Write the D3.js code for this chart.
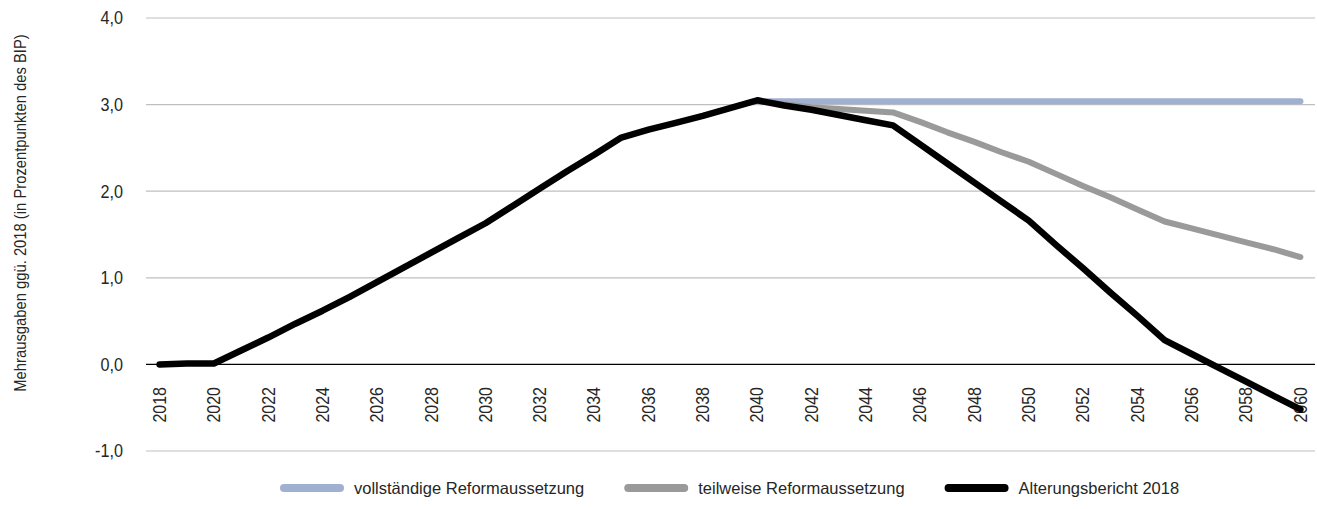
<!DOCTYPE html>
<meta charset="utf-8">
<style>
body { margin:0; background:#fff; }
svg text { font-family: "Liberation Sans", Arial, sans-serif; fill:#262626; }
.grid line { stroke:#bfbfbf; stroke-width:1.2; }
.line { fill:none; stroke-linejoin:round; stroke-linecap:round; }
</style>
<body>
<svg width="1317" height="509" id="vis"></svg>
</body>
<script src="https://d3js.org/d3.v7.min.js"></script>
<script>
var years = d3.range(2018, 2061);
var yTicks = [-1, 0, 1, 2, 3, 4];

// Alterungsbericht 2018, 2018..2060
var alterung = [0.00, 0.01, 0.01, 0.16, 0.31, 0.47, 0.62, 0.78, 0.95, 1.12,
                1.29, 1.46, 1.63, 1.83, 2.03, 2.23, 2.42, 2.62, 2.71, 2.79,
                2.87, 2.96, 3.05, 2.99, 2.94, 2.88, 2.82, 2.76, 2.54, 2.32,
                2.10, 1.88, 1.66, 1.38, 1.11, 0.83, 0.56, 0.28, 0.12, -0.04,
                -0.20, -0.36, -0.52];
// teilweise Reformaussetzung, 2040..2060
var teilweise = [3.05, 3.00, 2.97, 2.95, 2.93, 2.91, 2.80, 2.68, 2.57, 2.45,
                 2.34, 2.20, 2.06, 1.93, 1.79, 1.65, 1.57, 1.49, 1.41, 1.33, 1.24];
// vollständige Reformaussetzung, 2040..2060
var vollstaendig = [3.04, 3.04, 3.04, 3.04, 3.04, 3.04, 3.04, 3.04, 3.04, 3.04,
                    3.04, 3.04, 3.04, 3.04, 3.04, 3.04, 3.04, 3.04, 3.04, 3.04, 3.04];

var seriesNames = ["vollständige Reformaussetzung", "teilweise Reformaussetzung", "Alterungsbericht 2018"];
var seriesColors = ["#a0b0d0", "#9a9a9a", "#000000"];

var svg = d3.select("svg");

var x = d3.scalePoint().domain(years).range([146, 1314]).padding(0.5);
var y = d3.scaleLinear().domain([-1, 4]).range([451, 18]);

// gridlines
svg.append("g").attr("class", "grid")
  .selectAll("line").data(yTicks.filter(function(d){ return d != 0; })).enter().append("line")
  .attr("x1", 146).attr("x2", 1315)
  .attr("y1", function(d){ return y(d); }).attr("y2", function(d){ return y(d); });

// y tick labels (hyphen, comma decimal)
svg.append("g").selectAll("text").data(yTicks).enter().append("text")
  .attr("transform", function(d){ return "translate(123," + y(d) + ") scale(0.9,1)"; })
  .attr("dy", "0.35em").attr("text-anchor", "end")
  .style("font-size", "18px")
  .text(function(d){ return d.toFixed(1).replace(".", ","); });

// y axis title
svg.append("text")
  .attr("transform", "translate(26,213) rotate(-90) scale(0.87,1)")
  .attr("text-anchor", "middle")
  .style("font-size", "17px")
  .text("Mehrausgaben ggü. 2018 (in Prozentpunkten des BIP)");

// zero line + x labels
svg.append("line")
  .attr("x1", 146).attr("x2", 1315).attr("y1", y(0)).attr("y2", y(0))
  .attr("stroke", "#000").attr("stroke-width", 1.2);

svg.append("g").selectAll("text").data(years.filter(function(d){ return d % 2 == 0; })).enter().append("text")
  .attr("transform", function(d){ return "translate(" + x(d) + ",387) rotate(-90) scale(0.89,1)"; })
  .attr("dy", "0.35em").attr("text-anchor", "end")
  .style("font-size", "18px")
  .text(function(d){ return d; });

var line = d3.line()
  .x(function(d){ return x(d[0]); })
  .y(function(d){ return y(d[1]); });

var late = years.filter(function(d){ return d >= 2040; });

svg.append("path").attr("class", "line")
  .datum(late.map(function(d, i){ return [d, vollstaendig[i]]; }))
  .attr("stroke", seriesColors[0]).attr("stroke-width", 6)
  .attr("d", line);

svg.append("path").attr("class", "line")
  .datum(late.map(function(d, i){ return [d, teilweise[i]]; }))
  .attr("stroke", seriesColors[1]).attr("stroke-width", 6)
  .attr("d", line);

svg.append("path").attr("class", "line")
  .datum(years.map(function(d, i){ return [d, alterung[i]]; }))
  .attr("stroke", seriesColors[2]).attr("stroke-width", 6.5)
  .attr("d", line);

// legend
var lx = 284;
seriesNames.forEach(function(name, i) {
  var g = svg.append("g").attr("transform", "translate(" + lx + ",488)");
  g.append("line").attr("x1", 0).attr("x2", 56).attr("y1", 0).attr("y2", 0)
    .attr("stroke", seriesColors[i]).attr("stroke-width", 8).attr("stroke-linecap", "round");
  var t = g.append("text").attr("x", 70).attr("dy", "0.35em")
    .style("font-size", "16.5px").text(name);
  lx += 70 + t.node().getComputedTextLength() + 44;
});
</script>
